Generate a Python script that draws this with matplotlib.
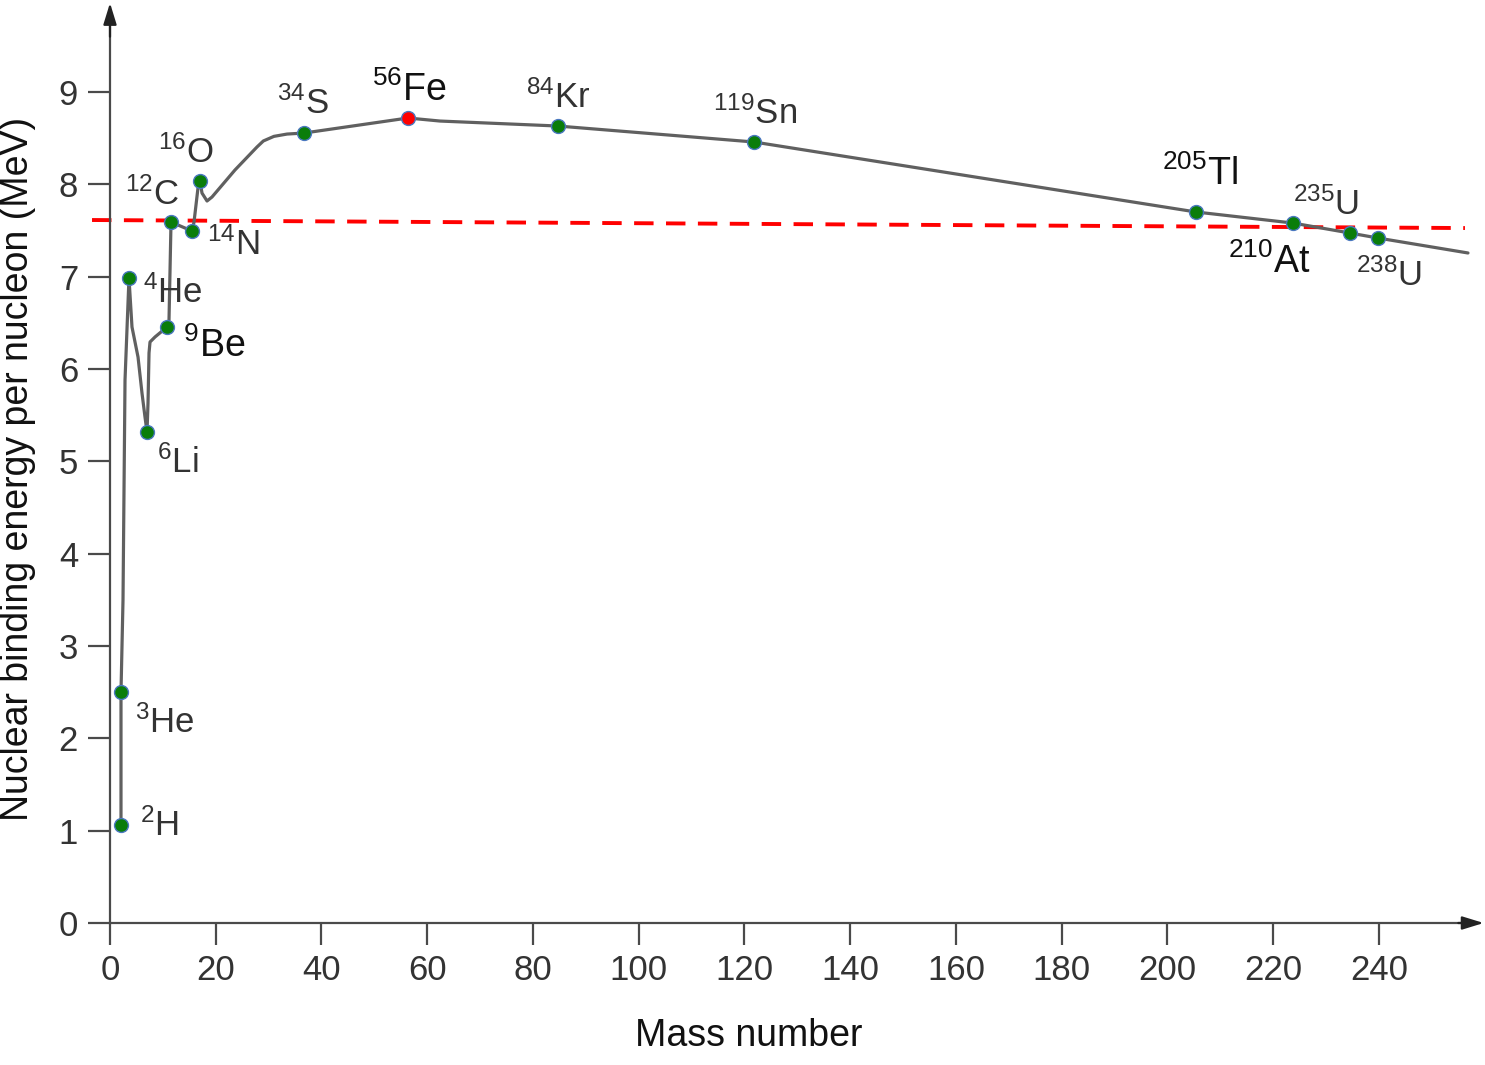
import matplotlib
matplotlib.use("Agg")
import matplotlib.pyplot as plt

plt.rcParams['font.family'] = ['Liberation Sans', 'DejaVu Sans']
plt.rcParams['mathtext.fontset'] = 'custom'
plt.rcParams['mathtext.rm'] = 'Liberation Sans'
plt.rcParams['mathtext.it'] = 'Liberation Sans:italic'
plt.rcParams['mathtext.bf'] = 'Liberation Sans:bold'

# ---- data ----
nuclides = ['2H', '3He', '4He', '6Li', '9Be', '12C', '14N', '16O', '34S', '56Fe',
            '84Kr', '119Sn', '205Tl', '210At', '235U', '238U']
point_mass = [2.08, 2.08, 3.59, 7.0, 10.78, 11.54, 15.51, 17.02, 36.69, 56.36,
              84.73, 121.80, 205.39, 223.74, 234.52, 239.81]
point_energy = [1.061, 2.502, 6.986, 5.318, 6.455, 7.592, 7.495, 8.036, 8.556, 8.719,
                8.632, 8.459, 7.701, 7.581, 7.473, 7.419]
point_colors = ['green'] * 9 + ['red'] + ['green'] * 6

# hand-drawn curve trace
curve_mass = [2.08, 2.08, 2.46, 2.84, 3.59, 4.16, 5.30, 6.05, 6.62, 7.0, 7.19, 7.38,
              7.57, 8.51, 10.78, 11.16, 11.54, 15.51, 15.89, 16.64, 17.02, 17.40,
              18.35, 19.29, 23.64, 27.80, 29.0, 31.0, 33.48, 36.69, 56.36, 62.41,
              84.73, 121.80, 205.39, 223.74, 234.52, 239.81, 256.83]
curve_energy = [1.061, 2.502, 3.498, 5.881, 6.986, 6.455, 6.130, 5.740, 5.480, 5.318,
                5.632, 6.174, 6.293, 6.347, 6.455, 6.531, 7.592, 7.495, 7.592, 7.961,
                8.036, 7.906, 7.820, 7.863, 8.156, 8.405, 8.470, 8.520, 8.545, 8.556,
                8.719, 8.686, 8.632, 8.459, 7.701, 7.581, 7.473, 7.419, 7.257]

# reference dashed line
ref_mass = [-3.40, 256.26]
ref_energy = [7.614, 7.527]

# label texts
label_sup = ['2', '3', '4', '6', '9', '12', '14', '16', '34', '56', '84', '119',
             '205', '210', '235', '238']
label_sym = ['H', 'He', 'He', 'Li', 'Be', 'C', 'N', 'O', 'S', 'Fe', 'Kr', 'Sn',
             'Tl', 'At', 'U', 'U']
label_x = [5.67, 4.73, 6.24, 8.89, 13.81, 2.84, 18.35, 9.08, 31.58, 49.55, 78.68,
           114.04, 198.96, 211.44, 223.74, 235.65]
label_y = [0.942, 2.058, 6.715, 4.874, 6.130, 7.776, 7.235, 8.231, 8.762, 8.903,
           8.827, 8.654, 7.993, 7.040, 7.668, 6.899]
label_dark = [False, False, False, False, True, False, False, False, False, True,
              False, False, True, True, False, False]

x_ticks = [0, 20, 40, 60, 80, 100, 120, 140, 160, 180, 200, 220, 240]
y_ticks = [0, 1, 2, 3, 4, 5, 6, 7, 8, 9]

# ---- figure ----
W, H = 1485, 1065
fig = plt.figure(figsize=(W / 100, H / 100), dpi=100)
ax = fig.add_axes([60 / W, (H - 960) / H, (W - 60) / W, 960 / H])
ax.set_xlim(-9.456, 260.05)
ax.set_ylim(-0.4007, 9.997)

axis_col = '#4a4a4a'
for s in ['top', 'right']:
    ax.spines[s].set_visible(False)
ax.spines['left'].set_position(('data', 0))
ax.spines['bottom'].set_position(('data', 0))
ax.spines['left'].set_bounds(0, 9.75)
ax.spines['bottom'].set_bounds(0, 257)
for s in ['left', 'bottom']:
    ax.spines[s].set_color(axis_col)
    ax.spines[s].set_linewidth(1.6)

ax.annotate('', xy=(0, 9.965), xytext=(0, 9.6),
            arrowprops=dict(arrowstyle='-|>,head_length=1.3,head_width=0.4',
                            color='#222222', lw=1.6, shrinkA=0, shrinkB=0),
            annotation_clip=False)
ax.annotate('', xy=(259.8, 0), xytext=(255, 0),
            arrowprops=dict(arrowstyle='-|>,head_length=1.3,head_width=0.4',
                            color='#222222', lw=1.6, shrinkA=0, shrinkB=0),
            annotation_clip=False)

ax.set_xticks(x_ticks)
ax.set_yticks(y_ticks)
ax.set_xticklabels([str(v) for v in x_ticks])
ax.set_yticklabels([str(v) for v in y_ticks])
ax.tick_params(axis='both', direction='out', length=16, width=1.6, color=axis_col,
               labelsize=25, labelcolor='#333333')
ax.tick_params(axis='x', pad=6)
ax.tick_params(axis='y', pad=7)

# dashed reference line
ax.plot(ref_mass, ref_energy, color='#ff0000', lw=2.8, dashes=(5.0, 3.2), zorder=2,
        clip_on=False)

# curve
ax.plot(curve_mass, curve_energy, color='#606060', lw=2.3, solid_joinstyle='round',
        solid_capstyle='round', zorder=3)

# points
for xm, ye, c in zip(point_mass, point_energy, point_colors):
    fc = '#0a7d0a' if c == 'green' else '#ff0000'
    ax.plot([xm], [ye], 'o', ms=10, mfc=fc, mec='#4a78c0', mew=1.0, zorder=4)

# labels
for sup, sym, lx, ly, dark in zip(label_sup, label_sym, label_x, label_y, label_dark):
    col = '#111111' if dark else '#333333'
    size = 27 if dark else 25
    ax.text(lx, ly, r'$^{\mathrm{%s}}$%s' % (sup, sym), fontsize=size, color=col,
            ha='left', va='baseline', zorder=5)

fig.text(18 / W, 1 - 469 / H, 'Nuclear binding energy per nucleon (MeV)', rotation=90,
         ha='center', va='center', fontsize=27, color='#111111')
fig.text(749 / W, 1 - 1036 / H, 'Mass number', ha='center', va='center', fontsize=27,
         color='#111111')

fig.savefig('out.png', dpi=100)
